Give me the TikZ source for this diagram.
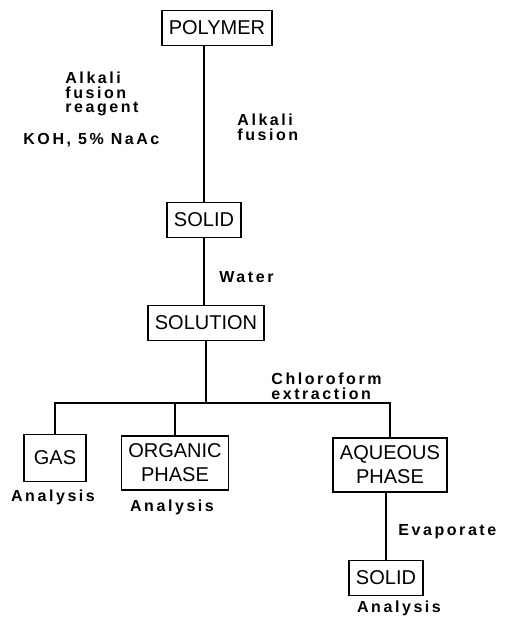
\documentclass[tikz,border=0pt]{standalone}
\usepackage{fontspec}
\setmainfont{Liberation Sans}
\newfontfamily\notefont[LetterSpace=16]{Liberation Sans}
\tikzset{
  box/.style={draw, line width=0.8pt, inner xsep=3.5pt, inner ysep=4pt,
    minimum height=17.5pt, align=center,
    font=\fontsize{10}{12}\selectfont},
  note/.style={inner sep=0pt, align=left,
    font=\notefont\bfseries\fontsize{8}{7.3}\selectfont},
  link/.style={line width=1pt}
}
\begin{document}
\begin{tikzpicture}[x=0.5pt,y=-0.5pt]
\useasboundingbox (0,0) rectangle (504,620);
% boxes
\node[box] (polymer) at (217,28) {POLYMER};
\node[box] (solid) at (204,220) {SOLID};
\node[box] (solution) at (206,323) {SOLUTION};
\node[box, minimum width=31pt, minimum height=23.5pt] (gas) at (55,458) {GAS};
\node[box] (organic) at (175,463) {ORGANIC\\PHASE};
\node[box] (aqueous) at (390,465) {AQUEOUS\\PHASE};
\node[box] (solid2) at (386,578) {SOLID};
\coordinate (bar) at (205,403);
% lines
\draw[link] (solid.north |- polymer.south) -- (solid.north);
\draw[link] (solid.south) -- (solid.south |- solution.north);
\draw[link] (solution.south) -- (solution.south |- bar);
\draw[link, line width=1.2pt] (gas.north) |- (aqueous.north |- bar) -- (aqueous.north);
\draw[link] (organic.north) -- (organic.north |- bar);
\draw[link] (solid2.north |- aqueous.south) -- (solid2.north);
% labels
\node[note, anchor=west] (reagent) at (65,94) {Alkali\\fusion\\reagent};
\node[note, anchor=west] (koh) at (23,140) {KOH, 5\% NaAc};
\node[note, anchor=west] (fusion) at (237,127) {Alkali\\fusion};
\node[note, anchor=west] (water) at (219,277) {Water};
\node[note, anchor=west] (extract) at (271,386) {Chloroform\\extraction};
\node[note] (an1) at (53,497) {Analysis};
\node[note] (an2) at (172,507) {Analysis};
\node[note, anchor=west] (evap) at (398,532) {Evaporate};
\node[note] (an3) at (399,608) {Analysis};
\end{tikzpicture}
\end{document}
